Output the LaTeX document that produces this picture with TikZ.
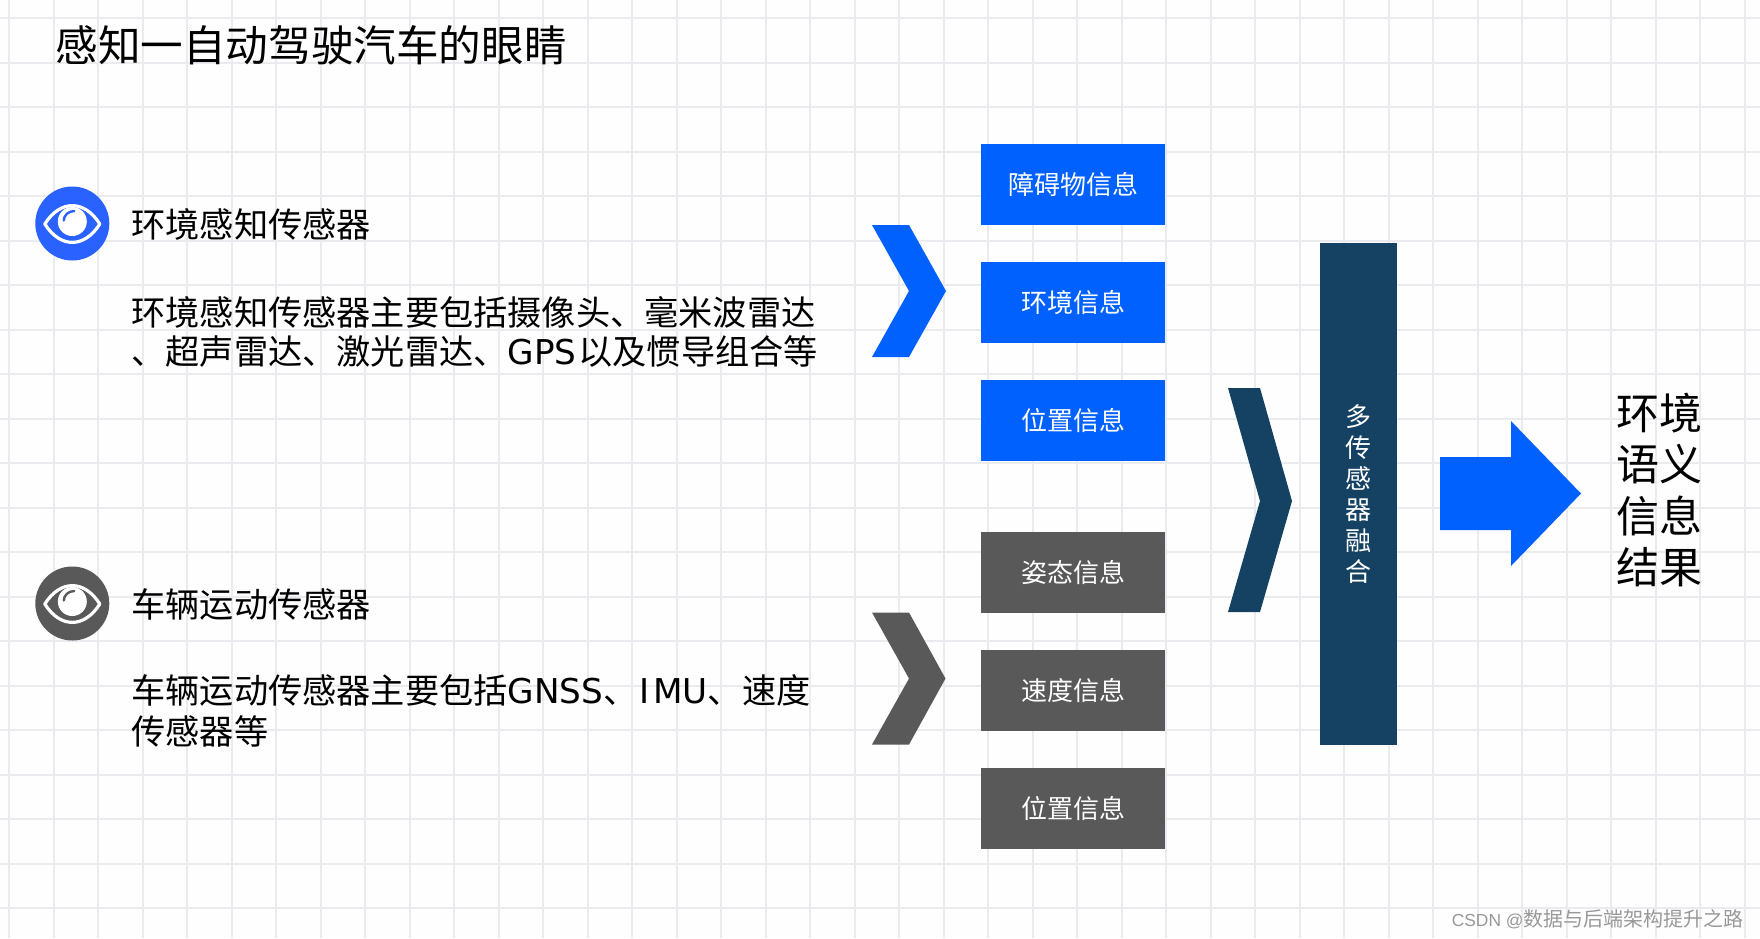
\documentclass[tikz,border=0pt]{standalone}
\usepackage{fontspec}
\setmainfont{Noto Sans CJK SC}
\newfontfamily\latinfont{DejaVu Sans}
\newfontfamily\markfont{Liberation Sans}
\definecolor{gridgray}{HTML}{E9EBEF}
\definecolor{mainblue}{HTML}{0061FF}
\definecolor{eyeblue}{HTML}{2962FF}
\definecolor{darkgray}{HTML}{595959}
\definecolor{navy}{HTML}{154263}
\definecolor{markgray}{HTML}{989898}
\tikzset{
    gridline/.style={draw=gridgray,line width=0.9pt},
    infobox/.style={rectangle,inner sep=0pt,minimum width=92pt,minimum height=40.5pt,text=white,font=\fontsize{13}{15}\selectfont},
    headtext/.style={anchor=west,inner sep=0pt,font=\fontsize{17.1}{20}\selectfont},
    bodytext/.style={anchor=west,inner sep=0pt,align=left,font=\fontsize{17.1}{19.7}\selectfont},
    eyedisc/.style={circle,inner sep=0pt,minimum size=37pt}
}
\newcommand{\eyemark}[2]{%
    \begin{scope}[shift={#1}]
        \draw[white,line width=1.6pt,line join=round] (-27.5,0.5) .. controls (-12,-24) and (12,-24) .. (27.5,0.5) .. controls (12,25) and (-12,25) .. cycle;
        \fill[white] (0,-2) circle (14.5);
        \draw[#2,line width=1.2pt,line cap=round] (-8.5,-3) .. controls (-8.5,-8) and (-4,-12.5) .. (2,-12.5);
    \end{scope}}
\begin{document}
\begin{tikzpicture}[x=0.5pt,y=-0.5pt]
    \fill[white!99.5!black] (0,0) rectangle (1760,938);
    \useasboundingbox (0,0) rectangle (1760,938);
    % grid
    \foreach \i in {0,...,39} \draw[gridline] ({9.2+44.5*\i},0) -- ({9.2+44.5*\i},938);
    \foreach \i in {0,...,20} \draw[gridline] (0,{18.3+44.5*\i}) -- (1760,{18.3+44.5*\i});

    % title
    \node[anchor=west,inner sep=0pt,font=\fontsize{21.3}{25}\selectfont] (title) at (55,45) {感知一自动驾驶汽车的眼睛};

    % left column
    \node[eyedisc,fill=eyeblue] (envEye) at (72.3,223.5) {};
    \eyemark{(72.3,223.5)}{eyeblue}
    \node[headtext] (envHead) at (131,224) {环境感知传感器};
    \node[bodytext] (envBody) at (131,332) {环境感知传感器主要包括摄像头、毫米波雷达\\、超声雷达、激光雷达、{\latinfont GPS}\kern1pt 以及惯导组合等};

    \node[eyedisc,fill=darkgray] (carEye) at (72.3,603.5) {};
    \eyemark{(72.3,603.5)}{darkgray}
    \node[headtext] (carHead) at (131,604) {车辆运动传感器};
    \node[bodytext] (carBody) at (131,711) {车辆运动传感器主要包括{\latinfont GNSS}、\kern1pt{\latinfont I\kern2pt MU}、速度\\[0.8pt]传感器等};

    % chevrons
    \fill[mainblue] (872,225) -- (909,225) -- (946,291) -- (909,357) -- (872,357) -- (909,291) -- cycle;
    \fill[darkgray] (872,612.5) -- (909,612.5) -- (945.5,678.5) -- (909,744.5) -- (872,744.5) -- (909,678.5) -- cycle;
    \fill[navy] (1228,388) -- (1260,388) -- (1292,501) -- (1260,612) -- (1228,612) -- (1260,501) -- cycle;

    % info boxes
    \node[infobox,fill=mainblue] (obstacle) at (1073,184.5) {障碍物信息};
    \node[infobox,fill=mainblue] (environ) at (1073,302.5) {环境信息};
    \node[infobox,fill=mainblue] (position) at (1073,420.5) {位置信息};
    \node[infobox,fill=darkgray] (attitude) at (1073,572.5) {姿态信息};
    \node[infobox,fill=darkgray] (speed) at (1073,690.5) {速度信息};
    \node[infobox,fill=darkgray] (vehpos) at (1073,808.5) {位置信息};

    % fusion bar and result
    \node[rectangle,fill=navy,inner sep=0pt,minimum width=38.5pt,minimum height=251pt,text=white,align=center,font=\fontsize{13}{15.5}\selectfont] (fusion) at (1358.5,494) {多\\传\\感\\器\\融\\合};
    \fill[mainblue] (1440,457) -- (1511,457) -- (1511,421) -- (1581,493.5) -- (1511,566) -- (1511,530) -- (1440,530) -- cycle;
    \node[inner sep=0pt,align=left,font=\fontsize{21.5}{25.7}\selectfont] (result) at (1659,490) {环境\\语义\\信息\\结果};

    % watermark
    \node[anchor=east,inner sep=0pt,text=markgray,font=\fontsize{10}{12}\selectfont] (mark) at (1744,919) {{\markfont\fontsize{8.7}{12}\selectfont CSDN @}数据与后端架构提升之路};
\end{tikzpicture}
\end{document}
